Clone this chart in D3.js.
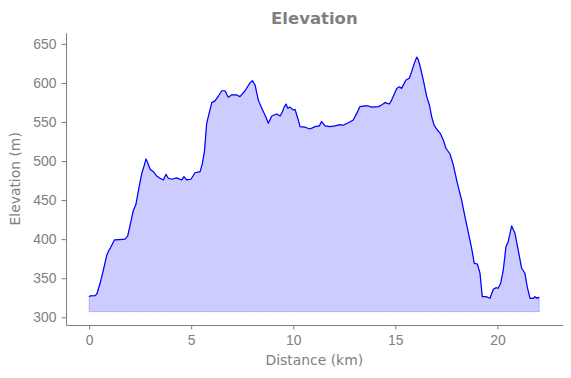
<!DOCTYPE html>
<html>
<head>
<meta charset="utf-8">
<script src="https://cdn.jsdelivr.net/npm/d3@7"></script>
<style>
  body { margin: 0; background: #fff; }
  svg { display: block; font-family: "DejaVu Sans", sans-serif; }
</style>
</head>
<body>
<svg></svg>
<script>
// Distance along the route (km)
const distance = [0, 0.05, 0.29, 0.38, 0.54, 0.70, 0.87, 0.98, 1.05, 1.24, 1.5, 1.76, 1.89, 2.01, 2.17, 2.29,
    2.45, 2.58, 2.71, 2.79, 2.87, 2.99, 3.15, 3.31, 3.48, 3.64, 3.77, 3.88, 4.05, 4.29, 4.54, 4.65, 4.78, 4.99,
    5.19, 5.44, 5.55, 5.65, 5.76, 5.84, 6.01, 6.17, 6.33, 6.5, 6.66, 6.82, 6.98, 7.23, 7.39, 7.64, 7.88, 8.0,
    8.13, 8.29, 8.46, 8.65, 8.78, 8.95, 9.19, 9.36, 9.47, 9.57, 9.65, 9.73, 9.84, 10.0, 10.09, 10.25, 10.33,
    10.58, 10.82, 11.07, 11.28, 11.39, 11.56, 11.8, 12.05, 12.29, 12.45, 12.7, 12.94, 13.11, 13.27, 13.51,
    13.68, 13.84, 14.17, 14.33, 14.5, 14.71, 14.82, 15.07, 15.2, 15.31, 15.52, 15.69, 15.8, 15.93, 16.05,
    16.13, 16.21, 16.37, 16.54, 16.67, 16.78, 16.9, 17.03, 17.22, 17.35, 17.48, 17.68, 17.84, 18.04, 18.25,
    18.41, 18.57, 18.74, 18.87, 19.02, 19.15, 19.26, 19.44, 19.64, 19.8, 19.93, 20.04, 20.16, 20.29, 20.42,
    20.53, 20.7, 20.86, 21.02, 21.19, 21.35, 21.46, 21.6, 21.76, 21.84, 21.92, 22.0, 22.05];

// Elevation at each point (m)
const elevation = [326, 327.5, 327.6, 329.8, 343.5, 360.5, 379.8, 386, 389, 399, 399.5, 400, 404, 418, 437, 444,
    467, 484, 495, 502.7, 498, 489.5, 486.4, 481, 478, 475.8, 483, 478, 476.7, 478.4, 475.8, 480, 475.8, 476.7,
    485, 486.4, 497, 512, 548, 557, 574.8, 577, 583, 590, 590, 581.7, 584.6, 584.6, 582.5, 590, 600, 603,
    597.4, 578, 567.6, 557, 548.4, 557.7, 560.3, 557.7, 563, 569.7, 573, 567.6, 569, 565.4, 566, 552.6, 544,
    543.3, 541, 544, 545, 550.5, 545, 544, 545, 546.6, 545.8, 549, 552.6, 561, 569.7, 570.5,
    570.5, 569, 569.7, 571.8, 574.8, 573, 578, 593, 595, 593, 603.8, 606, 614.5, 625, 633,
    629.5, 622, 603.8, 582.5, 571.8, 557, 546, 540.7, 534.7, 527, 516.4, 509, 495, 471.6, 450,
    428.8, 409.6, 388.3, 369, 368.2, 356.3, 326.4, 326.4, 324.3, 335.8, 337.9, 337.1, 343.5, 360.5, 390.4,
    396.8, 416.9, 407.6, 386, 362.7, 356.3, 339.2, 324.3, 324.3, 326.4, 324.3, 325.6, 324.3];

// Base level of the shaded area (m)
const fillBase = 307.2;

const xTicks = [0, 5, 10, 15, 20];
const yTicks = [300, 350, 400, 450, 500, 550, 600, 650];

const data = distance.map((d, i) => ({ dist: d, elev: elevation[i] }));

const fullWidth = 571, fullHeight = 378;
const margin = { top: 32.7, right: 8.3, bottom: 53, left: 66 },
      width = fullWidth - margin.left - margin.right,
      height = fullHeight - margin.top - margin.bottom;

const grey = "#808080";

const root = d3.select("svg")
    .attr("width", fullWidth)
    .attr("height", fullHeight);

const svg = root.append("g")
    .attr("transform", `translate(${margin.left},${margin.top})`);

// Scales
const x = d3.scaleLinear()
    .domain([-1.13, 23.2])
    .range([0, width]);

const y = d3.scaleLinear()
    .domain([290.1, 664.3])
    .range([height, 0]);

// Shaded area under the profile
const area = d3.area()
    .x(d => x(d.dist))
    .y0(y(fillBase))
    .y1(d => y(d.elev));

svg.append("path")
    .datum(data)
    .attr("fill", "blue")
    .attr("fill-opacity", 0.2)
    .attr("stroke", "blue")
    .attr("stroke-opacity", 0.2)
    .attr("stroke-width", 1)
    .attr("d", area);

// Elevation line
const line = d3.line()
    .x(d => x(d.dist))
    .y(d => y(d.elev));

svg.append("path")
    .datum(data)
    .attr("fill", "none")
    .attr("stroke", "blue")
    .attr("stroke-width", 1.2)
    .attr("stroke-linejoin", "round")
    .attr("d", line);

// Axes
const styleAxis = g => {
    g.select(".domain").attr("stroke", grey).attr("stroke-width", 1);
    g.selectAll(".tick line").attr("stroke", grey).attr("stroke-width", 1);
    g.selectAll(".tick text").attr("fill", grey).style("font-size", "13.9px");
};

svg.append("g")
    .attr("transform", `translate(0,${height})`)
    .call(d3.axisBottom(x).tickValues(xTicks).tickSize(4.5).tickPadding(5.5).tickSizeOuter(0))
    .call(styleAxis);

svg.append("g")
    .call(d3.axisLeft(y).tickValues(yTicks).tickSize(4.5).tickPadding(5).tickSizeOuter(0))
    .call(styleAxis);

// Title
root.append("text")
    .attr("x", margin.left + width / 2)
    .attr("y", 24)
    .attr("text-anchor", "middle")
    .attr("fill", grey)
    .style("font-size", "16.5px")
    .style("font-weight", "bold")
    .text("Elevation");

// Axis labels
root.append("text")
    .attr("x", margin.left + width / 2)
    .attr("y", 364.5)
    .attr("text-anchor", "middle")
    .attr("fill", grey)
    .style("font-size", "13.9px")
    .text("Distance (km)");

root.append("text")
    .attr("transform", `translate(20,${margin.top + height / 2}) rotate(-90)`)
    .attr("text-anchor", "middle")
    .attr("fill", grey)
    .style("font-size", "13.9px")
    .text("Elevation (m)");
</script>
</body>
</html>
